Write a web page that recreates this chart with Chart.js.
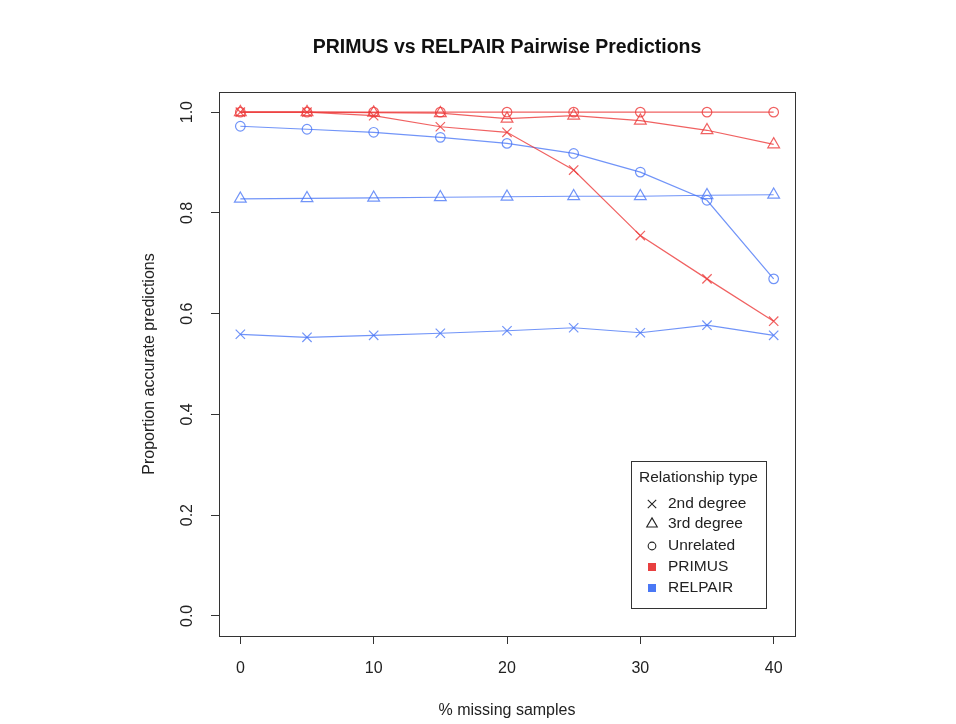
<!DOCTYPE html>
<html>
<head>
<meta charset="utf-8">
<title>PRIMUS vs RELPAIR Pairwise Predictions</title>
<script src="https://cdn.jsdelivr.net/npm/chart.js@4/dist/chart.umd.min.js"></script>
<style>
  body { margin: 0; background: #fff; }
  canvas { display: block; }
</style>
</head>
<body>
<canvas id="chart" width="956" height="724"></canvas>
<script>
// Datos
const missing = [0, 5, 10, 15, 20, 25, 30, 35, 40];
const xTicks = [0, 10, 20, 30, 40];
const yTicks = [0, 0.2, 0.4, 0.6, 0.8, 1.0];

const primus2nd = [1.0, 1.0, 0.993, 0.971, 0.960, 0.885, 0.755, 0.669, 0.585];
const primus3rd = [1.0, 1.0, 0.999, 0.998, 0.987, 0.993, 0.983, 0.964, 0.936];
const primusUnrel = [1.0, 1.0, 1.0, 1.0, 1.0, 1.0, 1.0, 1.0, 1.0];
const relpair2nd = [0.559, 0.553, 0.557, 0.561, 0.566, 0.572, 0.562, 0.577, 0.557];
const relpair3rd = [0.828, 0.829, 0.830, 0.831, 0.832, 0.833, 0.833, 0.835, 0.836];
const relpairUnrel = [0.972, 0.966, 0.960, 0.950, 0.938, 0.918, 0.881, 0.825, 0.669];

const legendTitle = 'Relationship type';
const legendTypes = ['2nd degree', '3rd degree', 'Unrelated'];
const legendTools = ['PRIMUS', 'RELPAIR'];

const RED = 'rgba(236, 58, 58, 0.8)';
const BLUE = 'rgba(66, 112, 245, 0.75)';
const RED_SOLID = '#e84040';
const BLUE_SOLID = '#4a78f5';
const FONT = '"Liberation Sans", Arial, Helvetica, sans-serif';
const INK = '#222';

// estilos de marcador por tipo de relación
const markers = {
    '2nd': { pointStyle: 'crossRot', radius: 6.6 },
    '3rd': { pointStyle: 'triangle', radius: 6.8 },
    'unrel': { pointStyle: 'circle', radius: 4.8 }
};

function series(label, values, color, kind) {
    return {
        label: label,
        data: missing.map((m, i) => ({ x: m, y: values[i] })),
        borderColor: color,
        backgroundColor: 'rgba(0,0,0,0)',
        borderWidth: 1.2,
        pointStyle: markers[kind].pointStyle,
        pointRadius: markers[kind].radius,
        pointBorderColor: color,
        pointBackgroundColor: 'rgba(0,0,0,0)',
        pointBorderWidth: 1.2,
        tension: 0
    };
}

// Caja alrededor del área de datos y leyenda dentro del gráfico
const boxAndLegend = {
    id: 'boxAndLegend',
    afterDraw(chart) {
        const ctx = chart.ctx;
        const a = chart.chartArea;
        ctx.save();
        ctx.strokeStyle = '#333';
        ctx.lineWidth = 1;
        ctx.strokeRect(a.left + 0.5, a.top + 0.5, a.right - a.left, a.bottom - a.top);

        // leyenda abajo a la derecha
        const w = 135, h = 147;
        const right = a.right - 29, bottom = a.bottom - 28;
        const left = right - w, top = bottom - h;
        ctx.fillStyle = '#fff';
        ctx.fillRect(left, top, w, h);
        ctx.strokeRect(left + 0.5, top + 0.5, w, h);

        ctx.fillStyle = INK;
        ctx.font = '15.5px ' + FONT;
        ctx.textBaseline = 'middle';
        ctx.textAlign = 'center';
        ctx.fillText(legendTitle, left + w / 2, top + 17);

        ctx.textAlign = 'left';
        const mx = left + 21, tx = left + 37;
        const rows = [top + 43, top + 63, top + 85, top + 106, top + 127];
        const kinds = ['2nd', '3rd', 'unrel'];
        legendTypes.forEach((t, i) => {
            ctx.fillStyle = 'rgba(0,0,0,0)';
            ctx.strokeStyle = INK;
            ctx.lineWidth = 1.1;
            Chart.helpers.drawPoint(ctx, {
                pointStyle: markers[kinds[i]].pointStyle,
                radius: markers[kinds[i]].radius * (kinds[i] === 'unrel' ? 0.8 : 0.9),
                borderWidth: 1.1,
                rotation: 0
            }, mx, rows[i]);
            ctx.fillStyle = INK;
            ctx.fillText(t, tx, rows[i]);
        });
        [RED_SOLID, BLUE_SOLID].forEach((c, i) => {
            ctx.fillStyle = c;
            ctx.fillRect(mx - 4, rows[3 + i] - 4, 8, 8);
            ctx.fillStyle = INK;
            ctx.fillText(legendTools[i], tx, rows[3 + i]);
        });
        ctx.restore();
    }
};

const ctx = document.getElementById('chart').getContext('2d');
const chart = new Chart(ctx, {
    type: 'line',
    data: {
        datasets: [
            series('PRIMUS 2nd degree', primus2nd, RED, '2nd'),
            series('PRIMUS 3rd degree', primus3rd, RED, '3rd'),
            series('PRIMUS Unrelated', primusUnrel, RED, 'unrel'),
            series('RELPAIR 2nd degree', relpair2nd, BLUE, '2nd'),
            series('RELPAIR 3rd degree', relpair3rd, BLUE, '3rd'),
            series('RELPAIR Unrelated', relpairUnrel, BLUE, 'unrel')
        ]
    },
    options: {
        responsive: false,
        animation: false,
        layout: { padding: { left: 0, right: 161, top: 0, bottom: 0 } },
        plugins: {
            legend: { display: false },
            tooltip: { enabled: false },
            title: {
                display: true,
                text: 'PRIMUS vs RELPAIR Pairwise Predictions',
                fullSize: false,
                color: '#111',
                font: { family: FONT, size: 19.5, weight: 'bold', lineHeight: 1.2 },
                padding: { top: 36.3, bottom: 32.3 }
            }
        },
        scales: {
            x: {
                type: 'linear',
                min: -1.6,
                max: 41.6,
                afterBuildTicks: s => { s.ticks = xTicks.map(v => ({ value: v })); },
                afterFit: s => { s.height = 88; },
                grid: { drawOnChartArea: false, drawTicks: true, tickLength: 8, color: '#333' },
                border: { display: false },
                ticks: {
                    color: INK,
                    padding: 15,
                    maxRotation: 0,
                    font: { family: FONT, size: 16 }
                },
                title: {
                    display: true,
                    text: '% missing samples',
                    color: INK,
                    font: { family: FONT, size: 16 },
                    padding: { top: 0, bottom: 3.4 }
                }
            },
            y: {
                type: 'linear',
                min: -0.04,
                max: 1.04,
                afterBuildTicks: s => { s.ticks = yTicks.map(v => ({ value: v })); },
                afterFit: s => { s.width = 219; },
                grid: { drawOnChartArea: false, drawTicks: true, tickLength: 8, color: '#333' },
                border: { display: false },
                ticks: {
                    color: INK,
                    padding: 12,
                    minRotation: 90,
                    maxRotation: 90,
                    crossAlign: 'center',
                    font: { family: FONT, size: 16 },
                    callback: v => v.toFixed(1)
                },
                title: {
                    display: true,
                    text: 'Proportion accurate predictions',
                    color: INK,
                    font: { family: FONT, size: 16 },
                    padding: { top: 140.4, bottom: 0 }
                }
            }
        }
    },
    plugins: [boxAndLegend]
});
</script>
</body>
</html>
